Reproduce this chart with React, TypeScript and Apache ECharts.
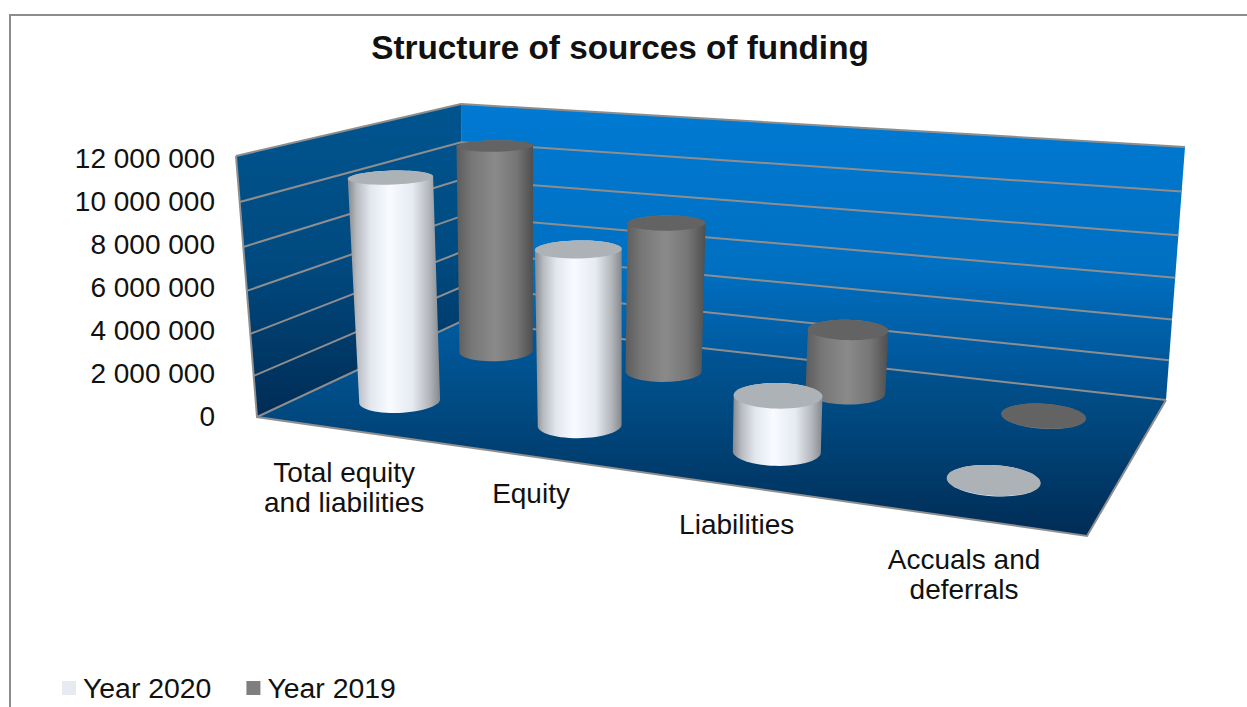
import React, { useEffect, useRef } from "react";
import * as echarts from "echarts";

const chartTitle = "Structure of sources of funding";
const categories = ["Total equity\nand liabilities", "Equity", "Liabilities", "Accuals and\ndeferrals"];
const seriesNames = ["Year 2020", "Year 2019"];
const values2020 = [10650000, 8150000, 2560000, 20000];
const values2019 = [10750000, 7600000, 3180000, 20000];
const axisTicks = [0, 2000000, 4000000, 6000000, 8000000, 10000000, 12000000];

const FONT = '"Liberation Sans", Arial, sans-serif';
const LABEL_DROP = [28, 22, 24, 26.5];

type P = [number, number];
// Corners of the box: floor and ceiling, in the order front-left, front-right, back-right, back-left.
const FLOOR: P[] = [[257, 417], [1087, 536], [1166, 400], [462, 321]];
const CEIL: P[] = [[236, 156], [1104, 221], [1185, 147], [461, 104]];
const HEIGHT_PERSPECTIVE = 1.07;

function homography(q: P[]) {
  const [p0, p1, p2, p3] = q;
  const sx = p0[0] - p1[0] + p2[0] - p3[0];
  const sy = p0[1] - p1[1] + p2[1] - p3[1];
  const dx1 = p1[0] - p2[0], dx2 = p3[0] - p2[0];
  const dy1 = p1[1] - p2[1], dy2 = p3[1] - p2[1];
  const den = dx1 * dy2 - dx2 * dy1;
  const g = (sx * dy2 - dx2 * sy) / den;
  const h = (dx1 * sy - sx * dy1) / den;
  const a = p1[0] - p0[0] + g * p1[0], b = p3[0] - p0[0] + h * p3[0], c = p0[0];
  const d = p1[1] - p0[1] + g * p1[1], e = p3[1] - p0[1] + h * p3[1], f = p0[1];
  return (u: number, v: number): P => {
    const w = g * u + h * v + 1;
    return [(a * u + b * v + c) / w, (d * u + e * v + f) / w];
  };
}
const floorAt = homography(FLOOR);
const ceilAt = homography(CEIL);
const project = (u: number, v: number, w: number): P => {
  const a = floorAt(u, v), b = ceilAt(u, v);
  const t = w / (w + (1 - w) * HEIGHT_PERSPECTIVE);
  return [a[0] + (b[0] - a[0]) * t, a[1] + (b[1] - a[1]) * t];
};

function hull(pts: P[]): P[] {
  const s = [...pts].sort((a, b) => a[0] - b[0] || a[1] - b[1]);
  const cross = (o: P, a: P, b: P) => (a[0] - o[0]) * (b[1] - o[1]) - (a[1] - o[1]) * (b[0] - o[0]);
  const lo: P[] = [], up: P[] = [];
  for (const p of s) {
    while (lo.length > 1 && cross(lo[lo.length - 2], lo[lo.length - 1], p) <= 0) lo.pop();
    lo.push(p);
  }
  for (const p of s.slice().reverse()) {
    while (up.length > 1 && cross(up[up.length - 2], up[up.length - 1], p) <= 0) up.pop();
    up.push(p);
  }
  return lo.slice(0, -1).concat(up.slice(0, -1));
}

const RU = 0.05, RV = 0.1, STEPS = 60;
function circle(u: number, v: number, w: number): P[] {
  const out: P[] = [];
  for (let i = 0; i < STEPS; i++) {
    const t = (i / STEPS) * Math.PI * 2;
    out.push(project(u + RU * Math.cos(t), v + RV * Math.sin(t), w));
  }
  return out;
}

const grad = (stops: [number, string][], x2 = 1, y2 = 0) =>
  new echarts.graphic.LinearGradient(0, 0, x2, y2, stops.map(([offset, color]) => ({ offset, color })));

const bodyLight: [number, string][] = [[0, "#85898e"], [0.1, "#b9bdc2"], [0.25, "#e3e7ee"], [0.45, "#f8fbff"], [0.7, "#e6eaf1"], [0.88, "#b4b7bc"], [1, "#85888c"]];
const bodyDark: [number, string][] = [[0, "#5c5c5c"], [0.2, "#777777"], [0.5, "#8a8a8a"], [0.78, "#767676"], [1, "#4e4e4e"]];

function cylinderRenderer(depth: number, stops: [number, string][], capColor: string) {
  return (params: any, api: any) => {
    const cs = params.coordSys;
    const pt = api.coord([api.value(0), api.value(1)]);
    const u = (pt[0] - cs.x) / cs.width;
    const w = (cs.y + cs.height - pt[1]) / cs.height;
    const bottom = circle(u, depth, 0);
    const top = circle(u, depth, w);
    return {
      type: "group",
      silent: true,
      children: [
        { type: "polygon", shape: { points: hull(bottom.concat(top)) }, style: { fill: grad(stops) } },
        { type: "polygon", shape: { points: top }, style: { fill: capColor } },
      ],
    };
  };
}

function wallsRenderer(params: any, api: any) {
  const cs = params.coordSys;
  const pt = api.coord([0, api.value(1)]);
  const w = (cs.y + cs.height - pt[1]) / cs.height;
  const children: any[] = [];
  if (params.dataIndex === 0) {
    children.push(
      {
        type: "polygon",
        shape: { points: [CEIL[3], CEIL[2], FLOOR[2], FLOOR[3]] },
        style: { fill: grad([[0, "#007ad3"], [0.55, "#0070c2"], [1, "#004e8c"]], 0, 1) },
      },
      {
        type: "polygon",
        shape: { points: [CEIL[0], CEIL[3], FLOOR[3], FLOOR[0]] },
        style: { fill: grad([[0, "#00558f"], [0.5, "#004a80"], [1, "#002c55"]], 0, 1) },
      },
      {
        type: "polygon",
        shape: { points: FLOOR },
        style: { fill: grad([[0, "#005b9f"], [0.45, "#00487f"], [1, "#002c55"]], 0, 1) },
      },
      {
        type: "polyline",
        shape: { points: [CEIL[0], FLOOR[0], FLOOR[1], FLOOR[2]] },
        style: { stroke: "#8f8f8f", lineWidth: 2, fill: "none" },
      },
    );
  }
  const points = [project(0, 0, w), project(0, 1, w), project(1, 1, w)];
  children.push({
    type: "polyline",
    shape: { points },
    style: { stroke: "#8e8e8e", lineWidth: 2, fill: "none" },
  });
  return { type: "group", silent: true, children };
}

function labelRenderer(params: any, api: any) {
  const cs = params.coordSys;
  const i = api.value(0);
  const pt = api.coord([i, 0]);
  const p = project((pt[0] - cs.x) / cs.width, 0, 0);
  return {
    type: "text",
    silent: true,
    x: p[0],
    y: p[1] + LABEL_DROP[i],
    style: {
      text: categories[i],
      font: `28px ${FONT}`,
      fill: "#111111",
      textAlign: "center",
      textVerticalAlign: "top",
      lineHeight: 30,
    },
  };
}

const formatTick = (v: number) => String(v).replace(/\B(?=(\d{3})+$)/g, " ");

export default function App() {
  const ref = useRef<HTMLDivElement>(null);
  useEffect(() => {
    document.body.style.margin = "0";
    const chart = echarts.init(ref.current!, undefined, { renderer: "svg" });
    const idx = categories.map((_, i) => i);
    chart.setOption({
      animation: false,
      backgroundColor: "#ffffff",
      title: {
        text: chartTitle,
        left: 615,
        top: 26,
        textAlign: "center",
        textStyle: { fontFamily: FONT, fontSize: 33.3, fontWeight: "bold", color: "#111111" },
      },
      graphic: [
        {
          type: "polyline",
          shape: { points: [[10, 707], [10, 15], [1247, 15]] },
          style: { stroke: "#8c8c8c", lineWidth: 2, fill: "none" },
          silent: true,
        },
      ],
      legend: {
        left: 62,
        top: 674,
        padding: 0,
        itemWidth: 14,
        itemHeight: 14,
        itemGap: 35,
        icon: "rect",
        selectedMode: false,
        textStyle: { fontFamily: FONT, fontSize: 28.4, color: "#111111", padding: [0, 0, 0, 2] },
        data: [
          { name: seriesNames[0], itemStyle: { color: "#e6ebf2" } },
          { name: seriesNames[1], itemStyle: { color: "#7f7f7f" } },
        ],
      },
      grid: { left: 237, top: 158, width: 930, height: 258, containLabel: false },
      xAxis: { type: "category", data: categories, show: false },
      yAxis: {
        type: "value",
        min: 0,
        max: 12000000,
        interval: 2000000,
        axisLine: { show: false },
        axisTick: { show: false },
        splitLine: { show: false },
        axisLabel: {
          margin: 22,
          formatter: formatTick,
          fontFamily: FONT,
          fontSize: 28,
          color: "#111111",
        },
      },
      series: [
        {
          type: "custom",
          name: "walls",
          clip: false,
          silent: true,
          data: axisTicks.map((t) => [0, t]),
          renderItem: wallsRenderer,
        },
        {
          type: "custom",
          name: seriesNames[1],
          clip: false,
          silent: true,
          itemStyle: { color: "#7f7f7f" },
          data: idx.map((i) => [i, values2019[i]]),
          renderItem: cylinderRenderer(0.75, bodyDark, "#636363"),
        },
        {
          type: "custom",
          name: seriesNames[0],
          clip: false,
          silent: true,
          itemStyle: { color: "#e6ebf2" },
          data: idx.map((i) => [i, values2020[i]]),
          renderItem: cylinderRenderer(0.25, bodyLight, "#adb2b6"),
        },
        {
          type: "custom",
          name: "category labels",
          clip: false,
          silent: true,
          data: idx.map((i) => [i, 0]),
          renderItem: labelRenderer,
        },
      ],
    });
    return () => chart.dispose();
  }, []);
  return <div ref={ref} style={{ position: "absolute", left: 0, top: 0, width: 1247, height: 707 }} />;
}
